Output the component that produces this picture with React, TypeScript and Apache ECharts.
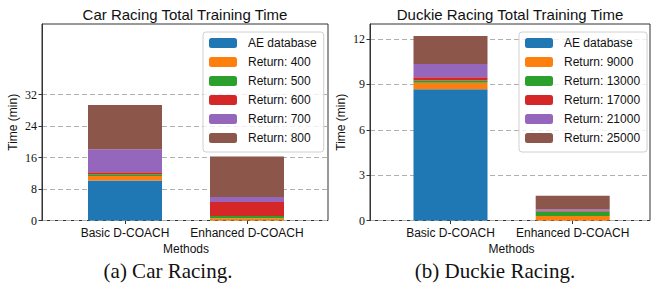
import React, { useEffect, useRef } from "react";
import * as echarts from "echarts";

const categories = ["Basic D-COACH", "Enhanced D-COACH"];
const colors = ["#1f77b4", "#ff7f0e", "#2ca02c", "#d62728", "#9467bd", "#8c564b"];

// Car Racing (minutes)
const carNames = ["AE database", "Return: 400", "Return: 500", "Return: 600", "Return: 700", "Return: 800"];
const carAE = [10.2, 0];
const car400 = [1.1, 0.55];
const car500 = [0.5, 0.6];
const car600 = [0.5, 3.55];
const car700 = [5.8, 1.3];
const car800 = [11.3, 10.3];
const carTicks = [0, 8, 16, 24, 32];

// Duckie Racing (minutes)
const duckNames = ["AE database", "Return: 9000", "Return: 13000", "Return: 17000", "Return: 21000", "Return: 25000"];
const duckAE = [8.68, 0];
const duck9000 = [0.44, 0.29];
const duck13000 = [0.15, 0.31];
const duck17000 = [0.2, 0.05];
const duck21000 = [0.88, 0.1];
const duck25000 = [1.85, 0.88];
const duckTicks = [0, 3, 6, 9, 12];

const SANS = "Liberation Sans";
const SERIF = "Liberation Serif";

export default function App() {
  const ref = useRef<HTMLDivElement>(null);
  useEffect(() => {
    document.body.style.margin = "0";
    if (!ref.current) return;
    const chart = echarts.init(ref.current, undefined, { renderer: "svg" });

    const carData = [carAE, car400, car500, car600, car700, car800];
    const duckData = [duckAE, duck9000, duck13000, duck17000, duck21000, duck25000];

    const TOP = 24;
    const H = 196.5;
    const CAR_MAX = 50;
    const DUCK_MAX = 13;

    const mkSeries = (names: string[], data: number[][], idx: number, stack: string) =>
      names.map((n, i) => ({
        type: "bar",
        name: n,
        stack,
        xAxisIndex: idx,
        yAxisIndex: idx,
        barWidth: 74,
        data: data[i],
        itemStyle: { color: colors[i] },
        emphasis: { disabled: true },
      }));

    const frameX = (gridIndex: number) => ({ type: "value", gridIndex, show: false, min: 0, max: 1 });
    const frameY = (gridIndex: number, max: number, ticks: number[]) => ({
      type: "value",
      gridIndex,
      min: 0,
      max,
      name: "Time (min)",
      nameLocation: "middle",
      nameGap: 23,
      nameTextStyle: { fontFamily: SANS, fontSize: 12, color: "#111" },
      axisLine: { show: true, onZero: false, lineStyle: { color: "#333", width: 1 } },
      axisTick: { show: true, length: 3.5, customValues: ticks, lineStyle: { color: "#333" } },
      axisLabel: { customValues: ticks, fontFamily: SERIF, fontSize: 12, color: "#111", margin: 5 },
      splitLine: { show: true, lineStyle: { color: "#b0b0b0", type: [5, 3], width: 1 } },
    });
    const barX = (gridIndex: number) => ({
      type: "category",
      gridIndex,
      data: categories,
      name: "Methods",
      nameLocation: "middle",
      nameGap: 22,
      nameTextStyle: { fontFamily: SANS, fontSize: 12, color: "#111" },
      axisLine: { show: false },
      axisTick: { show: true, alignWithLabel: true, length: 3.5, lineStyle: { color: "#333" } },
      axisLabel: { fontFamily: SANS, fontSize: 12, color: "#111", margin: 6, interval: 0 },
      splitLine: { show: false },
    });
    const barY = (gridIndex: number, max: number) => ({ type: "value", gridIndex, show: false, min: 0, max });

    const legendCommon = (names: string[], left: number) => ({
      orient: "vertical",
      left,
      top: 32,
      data: names,
      selectedMode: false,
      itemWidth: 28,
      itemHeight: 10,
      itemGap: 5,
      padding: [4, 7, 7, 6],
      backgroundColor: "rgba(255,255,255,0.8)",
      borderColor: "#d0d0d0",
      borderWidth: 1,
      borderRadius: 3,
      textStyle: { fontFamily: SANS, fontSize: 12, color: "#111", lineHeight: 14, padding: [0, 0, 0, 6] },
    });

    chart.setOption({
      animation: false,
      backgroundColor: "#fff",
      grid: [
        { left: 42, top: TOP, width: 286, height: H, show: true, borderColor: "#333", borderWidth: 1 },
        { left: 64, top: TOP, width: 244, height: H, show: false },
        { left: 370, top: TOP, width: 280, height: H, show: true, borderColor: "#333", borderWidth: 1 },
        { left: 389.4, top: TOP, width: 244.4, height: H, show: false },
      ],
      xAxis: [frameX(0), barX(1), frameX(2), barX(3)],
      yAxis: [
        frameY(0, CAR_MAX, carTicks),
        barY(1, CAR_MAX),
        frameY(2, DUCK_MAX, duckTicks),
        barY(3, DUCK_MAX),
      ],
      legend: [legendCommon(carNames, 203), legendCommon(duckNames, 519)],
      series: [...mkSeries(carNames, carData, 1, "car"), ...mkSeries(duckNames, duckData, 3, "duck")],
      graphic: [
        {
          type: "text",
          x: 185,
          y: 14,
          style: { text: "Car Racing Total Training Time", fontFamily: SANS, fontSize: 15, fill: "#111", align: "center", verticalAlign: "middle" },
        },
        {
          type: "text",
          x: 510,
          y: 14,
          style: { text: "Duckie Racing Total Training Time", fontFamily: SANS, fontSize: 15, fill: "#111", align: "center", verticalAlign: "middle" },
        },
        {
          type: "text",
          x: 168,
          y: 271,
          style: { text: "(a) Car Racing.", fontFamily: SERIF, fontSize: 21, fill: "#111", align: "center", verticalAlign: "middle" },
        },
        {
          type: "text",
          x: 495,
          y: 271,
          style: { text: "(b) Duckie Racing.", fontFamily: SERIF, fontSize: 21, fill: "#111", align: "center", verticalAlign: "middle" },
        },
      ],
    });
    return () => chart.dispose();
  }, []);
  return <div ref={ref} style={{ width: 652, height: 293 }} />;
}
